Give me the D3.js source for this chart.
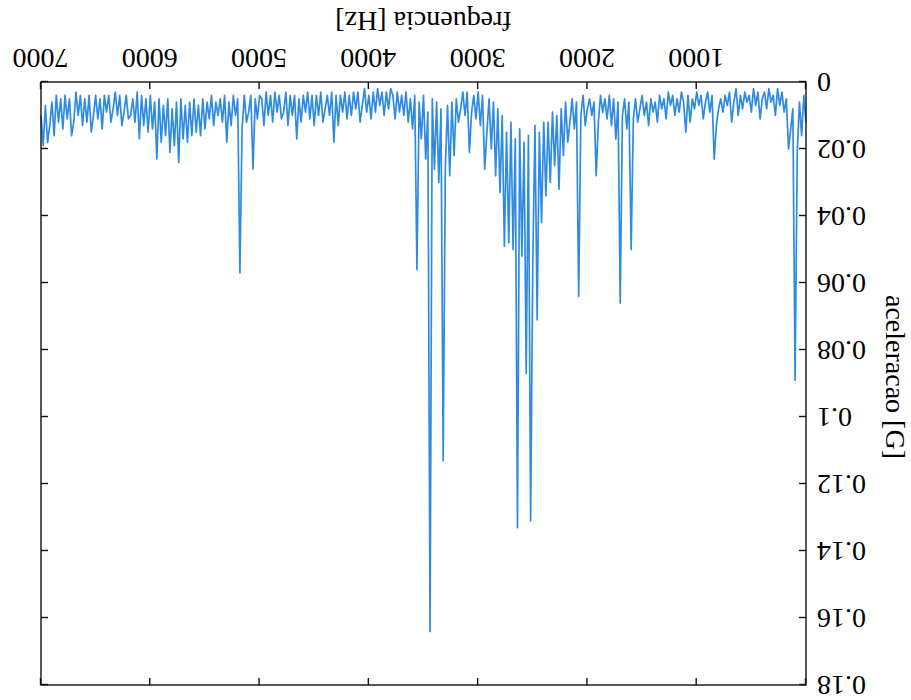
<!DOCTYPE html>
<html>
<head>
<meta charset="utf-8">
<script src="https://cdn.jsdelivr.net/npm/d3@7"></script>
<style>
	body { margin: 0; background: #fff; }
	text { font-family: 'Liberation Serif', 'DejaVu Serif', serif; fill: #000; }
	.axis text { font-size: 28px; }
	.axis path { stroke: none; }
	.axis line { stroke: #111; stroke-width: 1.4px; }
	.axis-label { font-size: 28px; }
	#frame { fill: none; stroke: #111; stroke-width: 1.4px; }
	.line { fill: none; stroke-width: 1.7px; stroke-linejoin: round; }
</style>
</head>
<body>
<svg width="911" height="700"></svg>
<script>
//Spectrum sampled every 20 Hz, from 0 Hz to 7000 Hz (acceleration in G).
var freqStart = 0, freqStep = 20;
var accel = [
	0.012, 0.004, 0.016, 0.006, 0.021, 0.089, 0.008, 0.014, 0.020, 0.005,
	0.009, 0.003, 0.007, 0.002, 0.010, 0.004, 0.006, 0.002, 0.008, 0.003,
	0.005, 0.011, 0.003, 0.007, 0.002, 0.009, 0.004, 0.006, 0.003, 0.008,
	0.004, 0.010, 0.002, 0.006, 0.012, 0.003, 0.007, 0.004, 0.009, 0.005,
	0.008, 0.013, 0.023, 0.004, 0.009, 0.003, 0.006, 0.011, 0.004, 0.007,
	0.003, 0.008, 0.005, 0.012, 0.004, 0.015, 0.006, 0.003, 0.009, 0.005,
	0.010, 0.004, 0.007, 0.003, 0.011, 0.005, 0.008, 0.004, 0.012, 0.006,
	0.009, 0.005, 0.013, 0.006, 0.010, 0.004, 0.008, 0.012, 0.005, 0.011,
	0.050, 0.006, 0.014, 0.005, 0.010, 0.066, 0.006, 0.017, 0.005, 0.013,
	0.004, 0.011, 0.005, 0.009, 0.004, 0.012, 0.028, 0.006, 0.010, 0.005,
	0.008, 0.013, 0.004, 0.010, 0.064, 0.006, 0.014, 0.005, 0.012, 0.018,
	0.006, 0.022, 0.008, 0.032, 0.010, 0.025, 0.009, 0.030, 0.012, 0.034,
	0.012, 0.042, 0.015, 0.071, 0.013, 0.054, 0.131, 0.016, 0.087, 0.018,
	0.052, 0.014, 0.133, 0.017, 0.050, 0.012, 0.048, 0.015, 0.049, 0.010,
	0.033, 0.008, 0.028, 0.006, 0.020, 0.005, 0.015, 0.026, 0.004, 0.013,
	0.003, 0.011, 0.004, 0.009, 0.021, 0.003, 0.010, 0.003, 0.008, 0.012,
	0.005, 0.022, 0.006, 0.028, 0.007, 0.025, 0.113, 0.008, 0.030, 0.006,
	0.026, 0.005, 0.164, 0.009, 0.023, 0.004, 0.017, 0.006, 0.056, 0.004,
	0.014, 0.005, 0.012, 0.003, 0.010, 0.004, 0.009, 0.003, 0.011, 0.004,
	0.002, 0.008, 0.003, 0.010, 0.003, 0.007, 0.002, 0.009, 0.003, 0.011,
	0.004, 0.009, 0.002, 0.007, 0.012, 0.003, 0.008, 0.003, 0.010, 0.004,
	0.011, 0.003, 0.009, 0.004, 0.013, 0.004, 0.018, 0.003, 0.010, 0.004,
	0.008, 0.012, 0.003, 0.010, 0.004, 0.013, 0.004, 0.011, 0.003, 0.009,
	0.004, 0.012, 0.005, 0.017, 0.004, 0.010, 0.004, 0.013, 0.003, 0.009,
	0.011, 0.004, 0.009, 0.003, 0.012, 0.004, 0.010, 0.003, 0.013, 0.005,
	0.004, 0.011, 0.005, 0.026, 0.004, 0.009, 0.012, 0.004, 0.014, 0.057,
	0.005, 0.010, 0.004, 0.013, 0.006, 0.018, 0.004, 0.012, 0.005, 0.010,
	0.006, 0.013, 0.004, 0.011, 0.006, 0.014, 0.005, 0.016, 0.007, 0.015,
	0.005, 0.016, 0.006, 0.018, 0.007, 0.017, 0.005, 0.024, 0.006, 0.019,
	0.008, 0.021, 0.005, 0.016, 0.007, 0.018, 0.005, 0.023, 0.006, 0.014,
	0.004, 0.015, 0.005, 0.013, 0.004, 0.017, 0.003, 0.012, 0.005, 0.010,
	0.011, 0.004, 0.009, 0.013, 0.004, 0.010, 0.003, 0.008, 0.012, 0.004,
	0.009, 0.004, 0.014, 0.005, 0.011, 0.004, 0.010, 0.015, 0.004, 0.012,
	0.005, 0.013, 0.004, 0.010, 0.003, 0.012, 0.016, 0.005, 0.011, 0.004,
	0.014, 0.005, 0.012, 0.004, 0.016, 0.006, 0.013, 0.018, 0.007, 0.019,
	0.010
];

//Tick values and their labels.
var xTicks = [0, 1000, 2000, 3000, 4000, 5000, 6000, 7000];
var xTickLabels = ['', '1000', '2000', '3000', '4000', '5000', '6000', '7000'];
var yTicks = [0, 0.02, 0.04, 0.06, 0.08, 0.1, 0.12, 0.14, 0.16, 0.18];
var yTickLabels = ['0', '0.02', '0.04', '0.06', '0.08', '0.1', '0.12', '0.14', '0.16', '0.18'];

var xTitle = 'frequencia [Hz]', yTitle = 'aceleracao [G]';
var lineColor = '#2f8be2';

var svg = d3.select('svg'),
	height = +svg.attr('height'), width = +svg.attr('width');

//The whole figure is upside down in the reference, so draw it normally and turn it by 180 degrees.
var page = svg.append('g')
	.attr('transform', 'rotate(180,' + (width / 2) + ',' + (height / 2) + ')');

var margin = {top: 15, right: 41, bottom: 82, left: 105};
var inner = page.append('g')
	.attr('transform', 'translate(' + margin.left + ',' + margin.top + ')');
var heightInner = height - margin.top - margin.bottom,
	widthInner = width - margin.left - margin.right;

var theData = accel.map(function(v, i) { return {f: freqStart + i * freqStep, a: v}; });

var xScale = d3.scaleLinear().domain([0, 7000]).range([0, widthInner]);
var yScale = d3.scaleLinear().domain([0, 0.18]).range([heightInner, 0]);

var line = d3.line()
	.x(function(d) { return xScale(d.f); })
	.y(function(d) { return yScale(d.a); });

inner.append('path')
	.data([theData])
	.attr('class', 'line')
	.attr('d', line)
	.style('stroke', lineColor);

//Axes, ticks pointing inwards, mirrored on the opposite sides.
inner.append('g')
	.attr('class', 'axis')
	.attr('transform', 'translate(0,' + heightInner + ')')
	.call(d3.axisBottom(xScale).tickValues(xTicks).tickSizeInner(-7).tickSizeOuter(0).tickPadding(13)
		.tickFormat(function(d, i) { return xTickLabels[i]; }));
inner.append('g')
	.attr('class', 'axis')
	.call(d3.axisTop(xScale).tickValues(xTicks).tickSizeInner(-7).tickSizeOuter(0).tickFormat(''));
inner.append('g')
	.attr('class', 'axis')
	.call(d3.axisLeft(yScale).tickValues(yTicks).tickSizeInner(-7).tickSizeOuter(0).tickPadding(11)
		.tickFormat(function(d, i) { return yTickLabels[i]; }));
inner.append('g')
	.attr('class', 'axis')
	.attr('transform', 'translate(' + widthInner + ',0)')
	.call(d3.axisRight(yScale).tickValues(yTicks).tickSizeInner(-7).tickSizeOuter(0).tickFormat(''));

inner.append('rect')
	.attr('id', 'frame')
	.attr('width', widthInner)
	.attr('height', heightInner);

//Axis titles.
page.append('text')
	.attr('class', 'axis-label')
	.attr('text-anchor', 'middle')
	.attr('x', margin.left + widthInner / 2)
	.attr('y', 688)
	.text(xTitle);
page.append('text')
	.attr('class', 'axis-label')
	.attr('text-anchor', 'middle')
	.attr('transform', 'translate(25,' + 323 + ') rotate(-90)')
	.text(yTitle);
</script>
</body>
</html>
